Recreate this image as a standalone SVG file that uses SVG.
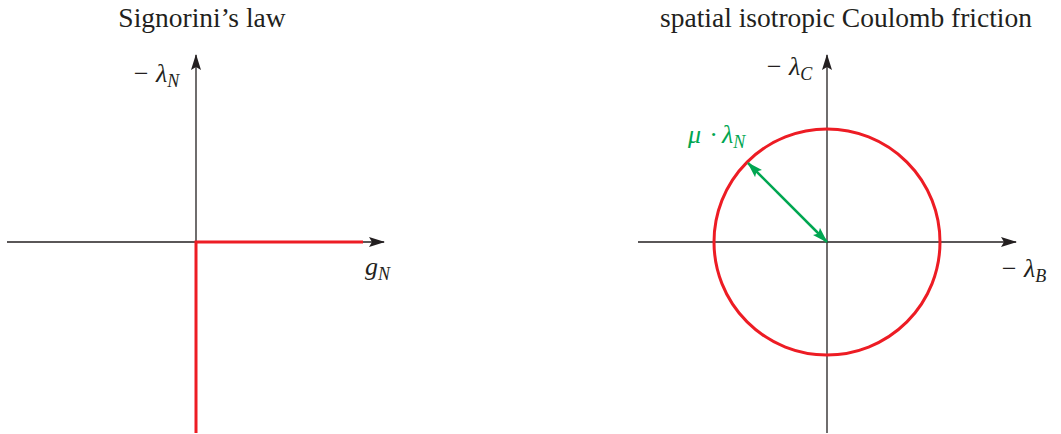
<svg xmlns="http://www.w3.org/2000/svg" width="1061" height="434" viewBox="0 0 1061 434">
<style>
text{font-family:"Liberation Serif","DejaVu Serif",serif;fill:#231f20}
.t{font-size:27.5px}
.m{font-size:26px;font-style:italic}
.s{font-size:18px;font-style:italic}
.g{fill:#00a651}
.ax{stroke:#231f20;stroke-width:1.3;fill:none}
.red{stroke:#ed1c24;stroke-width:3;fill:none}
.grn{stroke:#00a651;stroke-width:2.5;fill:none}
</style>
<defs>
<marker id="ah" viewBox="0 0 16 10" refX="15" refY="5" markerWidth="16" markerHeight="10" markerUnits="userSpaceOnUse" orient="auto">
<path d="M0,0 L16,5 L0,10 L3,5 Z" fill="#231f20"/>
</marker>
<marker id="gh" viewBox="0 0 16 10" refX="15" refY="5" markerWidth="16" markerHeight="10" markerUnits="userSpaceOnUse" orient="auto-start-reverse">
<path d="M0,0 L16,5 L0,10 L3,5 Z" fill="#00a651"/>
</marker>
</defs>
<g id="titles">
<text class="t" x="202" y="27" text-anchor="middle">Signorini’s law</text>
<text class="t" x="846" y="27" text-anchor="middle">spatial isotropic Coulomb friction</text>
</g>
<g id="connectors">
<line class="ax" x1="196" y1="433" x2="196" y2="55" marker-end="url(#ah)"/>
<line class="ax" x1="7" y1="242" x2="384" y2="242" marker-end="url(#ah)"/>
<line class="ax" x1="827" y1="433" x2="827" y2="55" marker-end="url(#ah)"/>
<line class="ax" x1="638" y1="242" x2="1016" y2="242" marker-end="url(#ah)"/>
</g>
<g id="signorini">
<polyline class="red" points="363,242 196,242 196,433"/>
</g>
<g id="circle">
<circle class="red" cx="827" cy="242" r="113"/>
</g>
<g id="radius">
<line class="grn" x1="748" y1="163" x2="827" y2="242" marker-start="url(#gh)" marker-end="url(#gh)"/>
</g>
<g id="labels">
<text class="m" x="132" y="82">− λ<tspan class="s" dy="5">N</tspan></text>
<text class="m" x="365" y="275">g<tspan class="s" dy="5">N</tspan></text>
<text class="m" x="765" y="75">− λ<tspan class="s" dy="5">C</tspan></text>
<text class="m" x="1000" y="277">− λ<tspan class="s" dy="5">B</tspan></text>
<text class="m g" x="688" y="143">μ<tspan x="710">·</tspan><tspan x="722">λ</tspan><tspan class="s g" dy="5">N</tspan></text>
</g>
</svg>
